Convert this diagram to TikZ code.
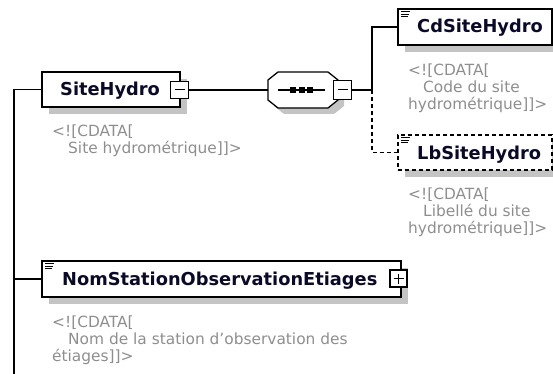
\documentclass[tikz,border=0pt]{standalone}
\usepackage{fontspec}
\setmainfont{DejaVu Sans}
\usetikzlibrary{shadows}
\definecolor{ttl}{HTML}{0A0A28}
\definecolor{cdgray}{HTML}{8E8E8E}
\definecolor{shd}{HTML}{C4C4C4}
\begin{document}
\begin{tikzpicture}[x=1pt,y=-1pt,
  shadowed/.style={general shadow={fill=shd, shadow xshift=7pt, shadow yshift=-7pt}},
  elbox/.style={draw, line width=1.3pt, fill=white, inner sep=0pt, shadowed},
  togglebox/.style={draw, line width=1.1pt, fill=white, inner sep=0pt, minimum width=18pt, minimum height=17pt},
  title/.style={inner sep=0pt, text=ttl, font=\fontsize{17.8}{20}\selectfont\bfseries},
  note/.style={inner sep=0pt, text=cdgray, align=left, anchor=north west, font=\fontsize{15.4}{17}\selectfont},
  conn/.style={line width=1.2pt},
  dconn/.style={line width=1.2pt, dash pattern=on 4pt off 3pt},
  icon/.style={line width=0.9pt}
]
\useasboundingbox (0,0) rectangle (553,374);

% element boxes
\node[elbox, minimum width=138pt, minimum height=35pt] (site) at (111,89.5) {};
\node[elbox, minimum width=154pt, minimum height=36pt] (cd) at (475,27) {};
\node[elbox, dash pattern=on 4pt off 3pt, minimum width=154pt, minimum height=35pt] (lb) at (475,152.5) {};
\node[elbox, minimum width=359pt, minimum height=36pt] (nom) at (221.5,279) {};

% sequence compositor (octagon)
\node[inner sep=0pt, minimum width=70pt, minimum height=36pt] (seq) at (303,90) {};
\fill[shd, shift={(6,6)}] (268,80) -- (278,72) -- (328,72) -- (338,80) -- (338,100) -- (328,108) -- (278,108) -- (268,100) -- cycle;
\draw[line width=1.3pt, fill=white] (268,80) -- (278,72) -- (328,72) -- (338,80) -- (338,100) -- (328,108) -- (278,108) -- (268,100) -- cycle;
\draw[line width=1.2pt] (278,90) -- (325,90);
\fill (290,87) rectangle (296,93);
\fill (298.5,87) rectangle (304.5,93);
\fill (307,87) rectangle (313,93);

% toggles
\node[togglebox] (siteminus) at (179.5,90) {};
\draw[line width=1pt] ([xshift=-5pt]siteminus.center) -- ([xshift=5pt]siteminus.center);
\node[togglebox, minimum height=19pt] (seqminus) at (342.5,90) {};
\draw[line width=1pt] ([xshift=-5pt]seqminus.center) -- ([xshift=5pt]seqminus.center);
\node[togglebox, minimum width=17pt] (nomplus) at (398.5,278.5) {};
\draw[line width=1pt] ([xshift=-5pt]nomplus.center) -- ([xshift=5pt]nomplus.center);
\draw[line width=1pt] ([yshift=-5pt]nomplus.center) -- ([yshift=5pt]nomplus.center);

% icons
\foreach \n in {cd,lb,nom}{
  \draw[icon] ([shift={(4,3.5)}]\n.north west) -- ++(9,0);
  \draw[icon] ([shift={(4,6)}]\n.north west) -- ++(8,0);
  \draw[icon] ([shift={(4,8.5)}]\n.north west) -- ++(7,0);
}

% connectors
\coordinate (trunk) at (14,374);
\coordinate (br) at (372,90);
\draw[conn] (site.west) -| (trunk);
\draw[conn] (nom.west) -- (nom.west -| trunk);
\draw[conn] (siteminus.east) -- (seq.west);
\draw[conn] (seqminus.east) -- (br) |- (cd.west);
\draw[dconn] (br) |- (lb.west);

% titles
\node[title, anchor=base west] (tsite) at (60,96) {SiteHydro};
\node[title, anchor=base west] (tcd) at (417,33) {CdSiteHydro};
\node[title, anchor=base west] (tlb) at (417,159) {LbSiteHydro};
\node[title, anchor=base west] (tnom) at (62,285) {NomStationObservationEtiages};

% annotations
\node[note] (nsite) at (52,124.5) {<![CDATA[\\\hspace*{16pt}Site hydrométrique]]>};
\node[note] (ncd) at (408,63.5) {<![CDATA[\\\hspace*{15pt}Code du site\\hydrométrique]]>};
\node[note] (nlb) at (408,187.5) {<![CDATA[\\\hspace*{15pt}Libellé du site\\hydrométrique]]>};
\node[note] (nnom) at (52,315.5) {<![CDATA[\\\hspace*{16pt}Nom de la station d\char"27 observation des\\étiages]]>};
\end{tikzpicture}
\end{document}
